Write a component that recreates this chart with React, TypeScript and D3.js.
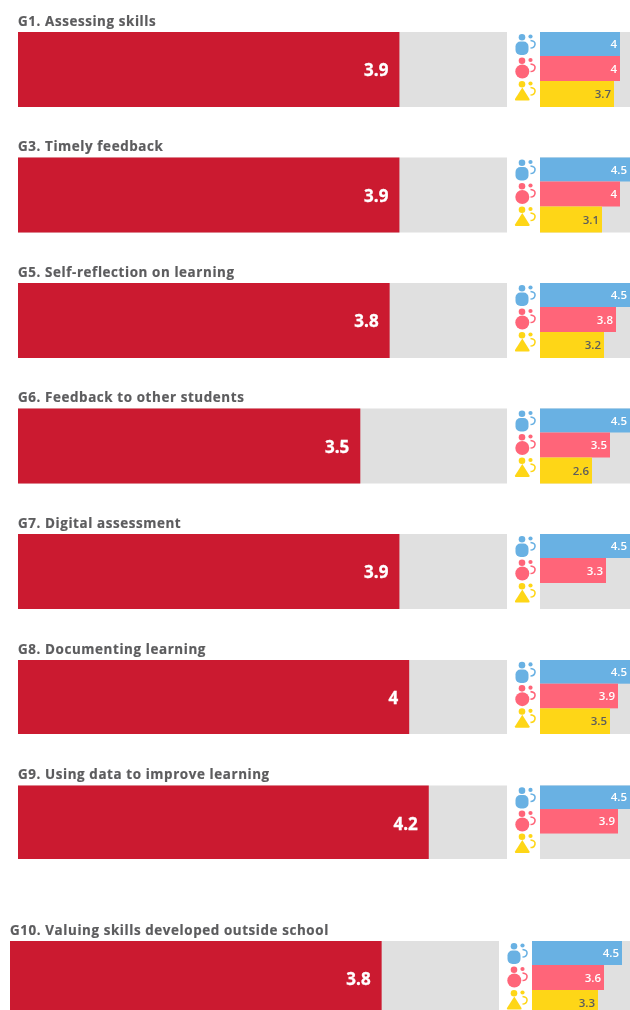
import React from "react";
import * as d3 from "d3";

const titles = [
  "G1. Assessing skills",
  "G3. Timely feedback",
  "G5. Self-reflection on learning",
  "G6. Feedback to other students",
  "G7. Digital assessment",
  "G8. Documenting learning",
  "G9. Using data to improve learning",
  "G10. Valuing skills developed outside school",
];
const overall = [3.9, 3.9, 3.8, 3.5, 3.9, 4, 4.2, 3.8];
const leaders = [4, 4.5, 4.5, 4.5, 4.5, 4.5, 4.5, 4.5];
const teachers = [4, 4, 3.8, 3.5, 3.3, 3.9, 3.9, 3.6];
const students: (number | null)[] = [3.7, 3.1, 3.2, 2.6, null, 3.5, null, 3.3];
const groupTops = [32, 157.5, 283, 408.5, 534, 660, 785.5, 941];
const groupHeights = [75, 75, 75, 75, 75, 74, 73.5, 75];
const groupOffsets = [0, 0, 0, 0, 0, 0, 0, -8];

const RED = "#cb1a30";
const BLUE = "#69b1e3";
const PINK = "#ff6579";
const YELLOW = "#fed617";
const GREY = "#e0e0e0";
const TEXT = "#5c5c5e";
const FONT = "'Open Sans', 'Noto Sans', sans-serif";

const mainX = d3.scaleLinear().domain([0, 5]).range([18, 507]);
const smallX = d3.scaleLinear().domain([0, 5]).range([540, 640]);
const rowTop = [0, 24, 49];
const rowH = [24, 25, 26];
const iconTop = [2, 25.5, 49];

function Icon({ kind, color }: { kind: number; color: string }) {
  return (
    <g fill={color}>
      <circle cx={6.5} cy={3.2} r={3.3} />
      {kind === 0 && <rect x={0} y={7.5} width={13} height={13.5} rx={5} />}
      {kind === 1 && <circle cx={6.8} cy={14} r={7} />}
      {kind === 2 && <path d="M6.8 6.5 L14 18 Q14.5 19.5 13 19.5 L0.5 19.5 Q-1 19.5 -0.5 18 Z" />}
      <circle cx={15} cy={2.5} r={2.1} />
      <path d="M15 6.5 Q20 7 19.5 10.5 Q19 14 15 14" fill="none" stroke={color} strokeWidth={1.6} />
    </g>
  );
}

function Group({ i }: { i: number }) {
  const top = groupTops[i];
  const H = groupHeights[i];
  const ky = H / 75;
  const rows = [
    { v: leaders[i], c: BLUE, t: "#ffffff" },
    { v: teachers[i], c: PINK, t: "#ffffff" },
    { v: students[i], c: YELLOW, t: "#5c5c5e" },
  ];
  return (
    <g transform={`translate(${groupOffsets[i]},0)`}>
      <text
        x={18}
        y={top - 6.5}
        fontFamily={FONT}
        fontWeight={700}
        fontSize={13.4}
        fill={TEXT}
        stroke={TEXT}
        strokeWidth={0.2}
        letterSpacing={0.6}
      >
        {titles[i]}
      </text>
      <rect x={mainX(0)} y={top} width={mainX(5) - mainX(0)} height={H} fill={GREY} />
      <rect x={mainX(0)} y={top} width={mainX(overall[i]) - mainX(0)} height={H} fill={RED} />
      <text
        x={mainX(overall[i]) - 11}
        y={top + 44}
        textAnchor="end"
        fontFamily={FONT}
        fontWeight={700}
        fontSize={17}
        fill="#fff"
        stroke="#fff"
        strokeWidth={0.3}
      >
        {overall[i]}
      </text>
      <rect x={smallX(0)} y={top} width={smallX(5) - smallX(0)} height={H} fill={GREY} />
      {rows.map((r, k) => (
        <g key={k}>
          <g transform={`translate(515.5,${top + iconTop[k] * ky})`}>
            <Icon kind={k} color={r.c} />
          </g>
          {r.v !== null && (
            <>
              <rect
                x={smallX(0)}
                y={top + rowTop[k] * ky}
                width={smallX(r.v) - smallX(0)}
                height={rowH[k] * ky}
                fill={r.c}
              />
              <text
                x={smallX(r.v) - 3}
                y={top + (rowTop[k] + rowH[k] / 2) * ky + 4}
                textAnchor="end"
                fontFamily={FONT}
                fontWeight={600}
                fontSize={11.5}
                fill={r.t}
              >
                {r.v}
              </text>
            </>
          )}
        </g>
      ))}
    </g>
  );
}

export default function App() {
  return (
    <svg
      width={630}
      height={1010}
      viewBox="0 0 630 1010"
      style={{ position: "fixed", left: 0, top: 0, background: "#fff", filter: "blur(0.4px)" }}
    >
      {titles.map((_, i) => (
        <Group key={i} i={i} />
      ))}
    </svg>
  );
}
